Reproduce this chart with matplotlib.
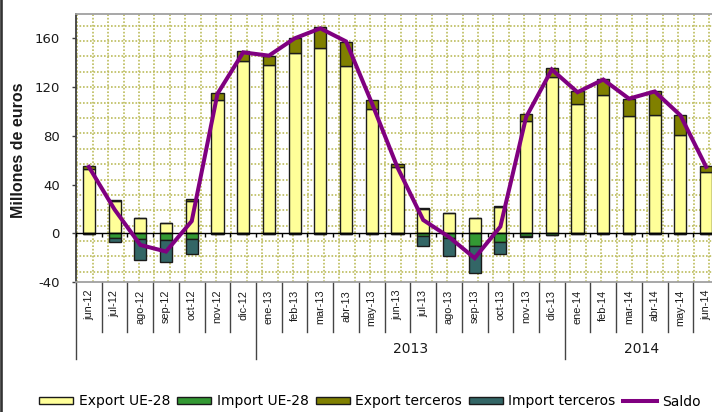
import matplotlib
matplotlib.use("Agg")
import matplotlib.pyplot as plt
import matplotlib.transforms as mtransforms
from matplotlib.lines import Line2D
import numpy as np

months = ['jun-12', 'jul-12', 'ago-12', 'sep-12', 'oct-12', 'nov-12', 'dic-12',
          'ene-13', 'feb-13', 'mar-13', 'abr-13', 'may-13', 'jun-13', 'jul-13',
          'ago-13', 'sep-13', 'oct-13', 'nov-13', 'dic-13',
          'ene-14', 'feb-14', 'mar-14', 'abr-14', 'may-14', 'jun-14']
years = ['2013', '2014']
year_start = [7, 19]   # index of first month of each year group
year_end = [18, 24]

export_ue = [52.6, 26.2, 12.3, 8.7, 26.8, 109.6, 141.7, 138.2, 148.3, 152.1, 137.1, 101.7, 54.5,
             19.6, 16.9, 12.3, 21.3, 91.8, 128.1, 106.3, 113.9, 96.2, 97.3, 80.4, 50.4]
export_terc = [2.5, 1.2, 0.0, 0.0, 1.6, 5.7, 7.6, 7.4, 12.0, 17.2, 19.9, 7.4, 2.2,
               1.4, 0.0, 0.0, 1.4, 6.3, 7.6, 10.1, 12.5, 14.2, 19.9, 16.9, 5.2]
import_ue = [-0.4, -3.8, -4.9, -5.8, -4.8, -0.4, -0.4, -0.2, -0.2, -0.2, -0.2, -0.2, -0.4,
             -1.9, -3.5, -10.1, -6.8, -2.5, -1.5, -0.2, -0.2, -0.2, -0.2, -0.2, -0.4]
import_terc = [-0.3, -3.7, -17.0, -17.9, -12.4, -0.2, -0.3, -0.2, -0.2, -0.2, -0.2, -0.2, -0.3,
               -8.4, -15.5, -22.6, -10.4, -0.4, -0.3, -0.2, -0.2, -0.2, -0.2, -0.2, -0.3]
saldo = [54.5, 19.5, -9.6, -15.0, 10.0, 114.5, 148.5, 145.8, 160.0, 168.2, 157.5, 107.0, 54.0,
         10.9, -3.0, -20.4, 5.5, 95.4, 134.4, 115.8, 126.2, 110.5, 116.4, 96.8, 54.5]

yticks = [-40, 0, 40, 80, 120, 160]

C_EXP_UE = '#FFFF99'
C_IMP_UE = '#339933'
C_EXP_T = '#808000'
C_IMP_T = '#336666'
C_SALDO = '#800080'
C_GRID = '#bcbc5c'

W, H = 712, 412
fig = plt.figure(figsize=(W / 100, H / 100), dpi=100)
fig.patch.set_facecolor('white')

# axes placement (px): left 76, right ~719 (cut off), top 14, bottom 282
L, R, T, B = 76, 719, 14, 282
ax = fig.add_axes([L / W, (H - B) / H, (R - L) / W, (B - T) / H])

x = np.arange(len(months))
n = len(months)
ax.set_xlim(-0.5, n - 0.5)
ax.set_ylim(-40, 180)

# background dotted grid (independent square pattern)
gstyle = dict(color=C_GRID, lw=1.2, linestyle=(0, (1.0, 1.1)), zorder=0.5)
gy0 = (B - 25.7) / (B - T)
gdy = 15.38 / (B - T)
k = 0
while gy0 - k * gdy > 0.005:
    fy = gy0 - k * gdy
    ax.plot([0, 1], [fy, fy], transform=ax.transAxes, **gstyle)
    k += 1
gdx = 15.41 / (R - L)
gx0 = 1.3 / (R - L)
k = 0
while gx0 + k * gdx < (W - L) / (R - L):
    fx = gx0 + k * gdx
    ax.plot([fx, fx], [0, 1], transform=ax.transAxes, **gstyle)
    k += 1

bw = 0.47
ek = dict(edgecolor='#1a1a1a', linewidth=1.0, zorder=3)
b1 = ax.bar(x, export_ue, bw, color=C_EXP_UE, label='Export UE-28', **ek)
b3 = ax.bar(x, export_terc, bw, bottom=export_ue, color=C_EXP_T, label='Export terceros', **ek)
b2 = ax.bar(x, import_ue, bw, color=C_IMP_UE, label='Import UE-28', **ek)
b4 = ax.bar(x, import_terc, bw, bottom=import_ue, color=C_IMP_T, label='Import terceros', **ek)

ln, = ax.plot(x, saldo, color=C_SALDO, lw=2.9, zorder=5, label='Saldo',
              solid_joinstyle='miter')

# zero line with category boundary ticks
ax.axhline(0, color='black', lw=1.0, zorder=4)
bounds = np.arange(n + 1) - 0.5
ax.vlines(bounds, -3.3 / 1.2206, 0, color='black', lw=1.0, zorder=4)

# spines
ax.spines['right'].set_visible(False)
ax.spines['top'].set_color('#a0a0a0')
ax.spines['bottom'].set_color('#a0a0a0')
ax.spines['top'].set_linewidth(1.3)
ax.spines['bottom'].set_linewidth(1.3)
ax.spines['left'].set_color('#404040')
ax.spines['left'].set_linewidth(1.3)

ax.set_yticks(yticks)
ax.set_yticklabels([str(v) for v in yticks], fontsize=9.5, family='DejaVu Sans', color='#1a1a1a')
ax.tick_params(axis='y', direction='out', length=3.1, width=1.0, color='#404040', pad=8.6)

ax.set_xticks(x)
ax.set_xticklabels(months, rotation=90, fontsize=7.8, family='Liberation Sans', color='#1a1a1a',
                   va='top', ha='center')
ax.tick_params(axis='x', length=0, pad=5.6)

# category separators below the axis
trans = mtransforms.blended_transform_factory(ax.transData, ax.transAxes)
month_len = (332 - B) / (B - T)
year_len = (359 - B) / (B - T)
year_bounds = [-0.5] + [s - 0.5 for s in year_start]
for bnd in bounds:
    ln_len = year_len if bnd in year_bounds else month_len
    ax.add_line(Line2D([bnd, bnd], [0, -ln_len], transform=trans, color='#444444',
                       lw=1.0, clip_on=False))
for yl, s, e in zip(years, year_start, year_end):
    ax.text((s + e) / 2, -(349 - B) / (B - T), yl, transform=trans, ha='center', va='center',
            fontsize=10, family='DejaVu Sans', color='#1a1a1a')

# y label
fig.text(18.5 / W, 1 - 150.5 / H, 'Millones de euros', rotation=90, ha='center', va='center',
         fontsize=11.5, fontweight='bold', family='Liberation Sans', color='#1a1a1a')

# legend
handles = [b1, b2, b3, b4, ln]
labels = ['Export UE-28', 'Import UE-28', 'Export terceros', 'Import terceros', 'Saldo']
leg = fig.legend(handles, labels, ncol=5, loc='center', bbox_to_anchor=(370 / W, 1 - 401.5 / H),
                 frameon=False, handlelength=2.45, handleheight=0.45, handletextpad=0.4,
                 columnspacing=0.5, borderpad=0, prop={'family': 'DejaVu Sans', 'size': 10})

# outer frame fragment at left edge
fig.add_artist(Line2D([1.2 / W, 1.2 / W], [0, 1], transform=fig.transFigure,
                      color='#333333', lw=1.9))

fig.savefig('out.png', dpi=100, facecolor='white')
